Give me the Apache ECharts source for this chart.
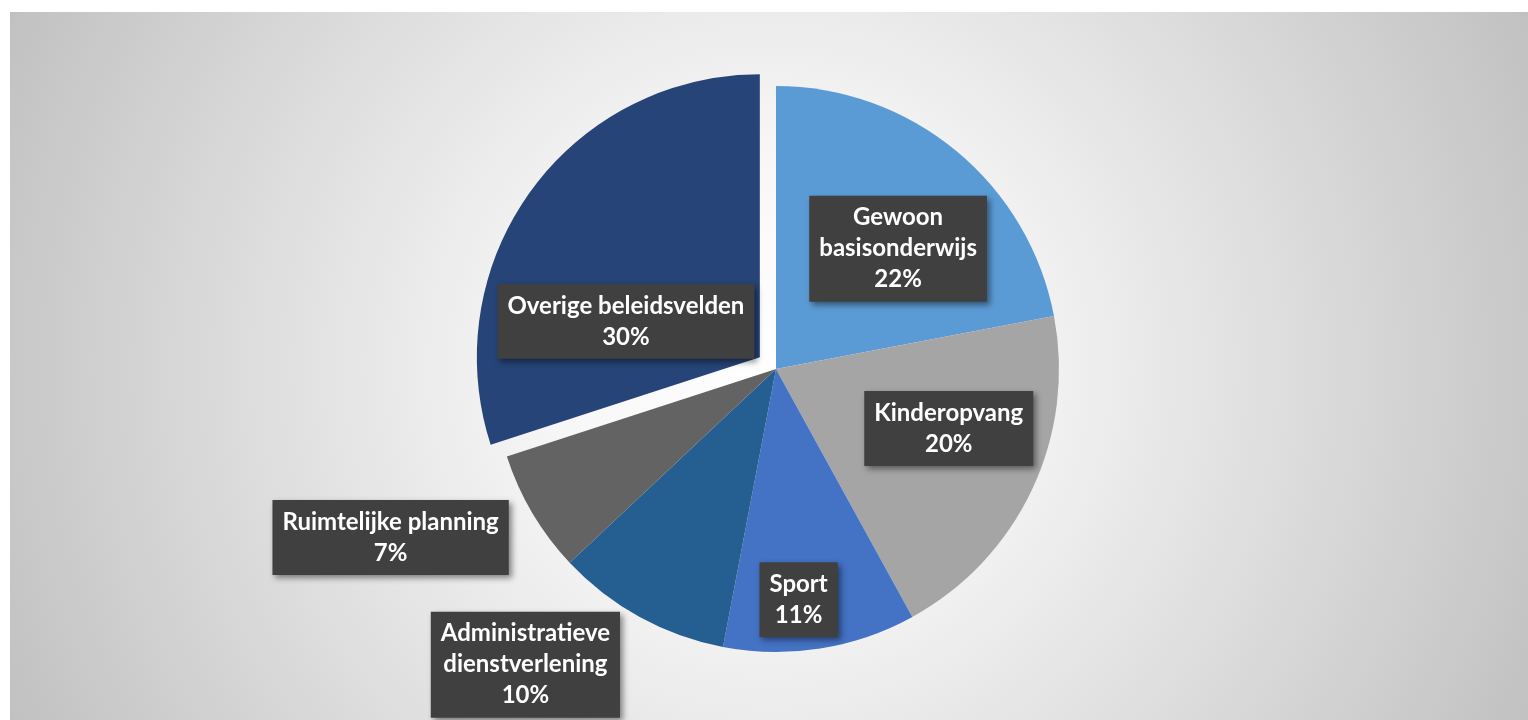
<!DOCTYPE html>
<html>
<head>
<meta charset="utf-8">
<script src="https://cdn.jsdelivr.net/npm/echarts@6/dist/echarts.min.js"></script>
<style>
html,body{margin:0;padding:0;background:#ffffff;width:1528px;height:720px;overflow:hidden;}
#chart{position:absolute;left:10px;top:12px;width:1518px;height:708px;}
</style>
</head>
<body>
<div id="chart"></div>
<script>
// Data
const categories = ['Gewoon basisonderwijs','Kinderopvang','Sport','Administratieve dienstverlening','Ruimtelijke planning','Overige beleidsvelden'];
const labelNames = ['Gewoon\nbasisonderwijs','Kinderopvang','Sport','Administratieve\ndienstverlening','Ruimtelijke planning','Overige beleidsvelden'];
const values = [22, 20, 11, 10, 7, 30];
const exploded = [false, false, false, false, false, true];

// Styles
const colors = ['#5B9BD5','#A5A5A5','#4472C4','#255E91','#636363','#264478'];
const labelOffsets = [[30,-9],[42,-2],[0,88],[-181,169],[-261,95],[-17,49]];

const chart = echarts.init(document.getElementById('chart'), null, {renderer:'canvas'});
const data = categories.map((c,i)=>({
  name: c,
  value: values[i],
  selected: exploded[i],
  itemStyle: {color: colors[i]},
  label: {offset: labelOffsets[i]},
  select: {label: {offset: labelOffsets[i]}}
}));

chart.setOption({
  animation: false,
  backgroundColor: {
    type: 'radial', x: 0.5, y: 0.5, r: 1.2,
    colorStops: [
      {offset: 0, color: '#ffffff'},
      {offset: 0.25, color: '#f7f7f7'},
      {offset: 0.6, color: '#dedede'},
      {offset: 1, color: '#c0c0c0'}
    ]
  },
  series: [{
    type: 'pie',
    center: [766, 357],
    radius: [0, 283],
    startAngle: 90,
    clockwise: true,
    selectedMode: 'single',
    selectedOffset: 20,
    avoidLabelOverlap: false,
    itemStyle: {borderWidth: 0},
    emphasis: {disabled: true},
    labelLine: {show: false},
    label: {
      show: true,
      position: 'inside',
      formatter: p => labelNames[p.dataIndex] + '\n' + p.value + '%',
      color: '#ffffff',
      fontFamily: 'Lato',
      fontWeight: 'bold',
      fontSize: 24,
      lineHeight: 31,
      align: 'center',
      backgroundColor: '#404040',
      padding: [7, 10, 6, 10],
      shadowColor: 'rgba(0,0,0,0.45)',
      shadowBlur: 6,
      shadowOffsetX: 3,
      shadowOffsetY: 3
    },
    data: data
  }]
});
</script>
</body>
</html>
